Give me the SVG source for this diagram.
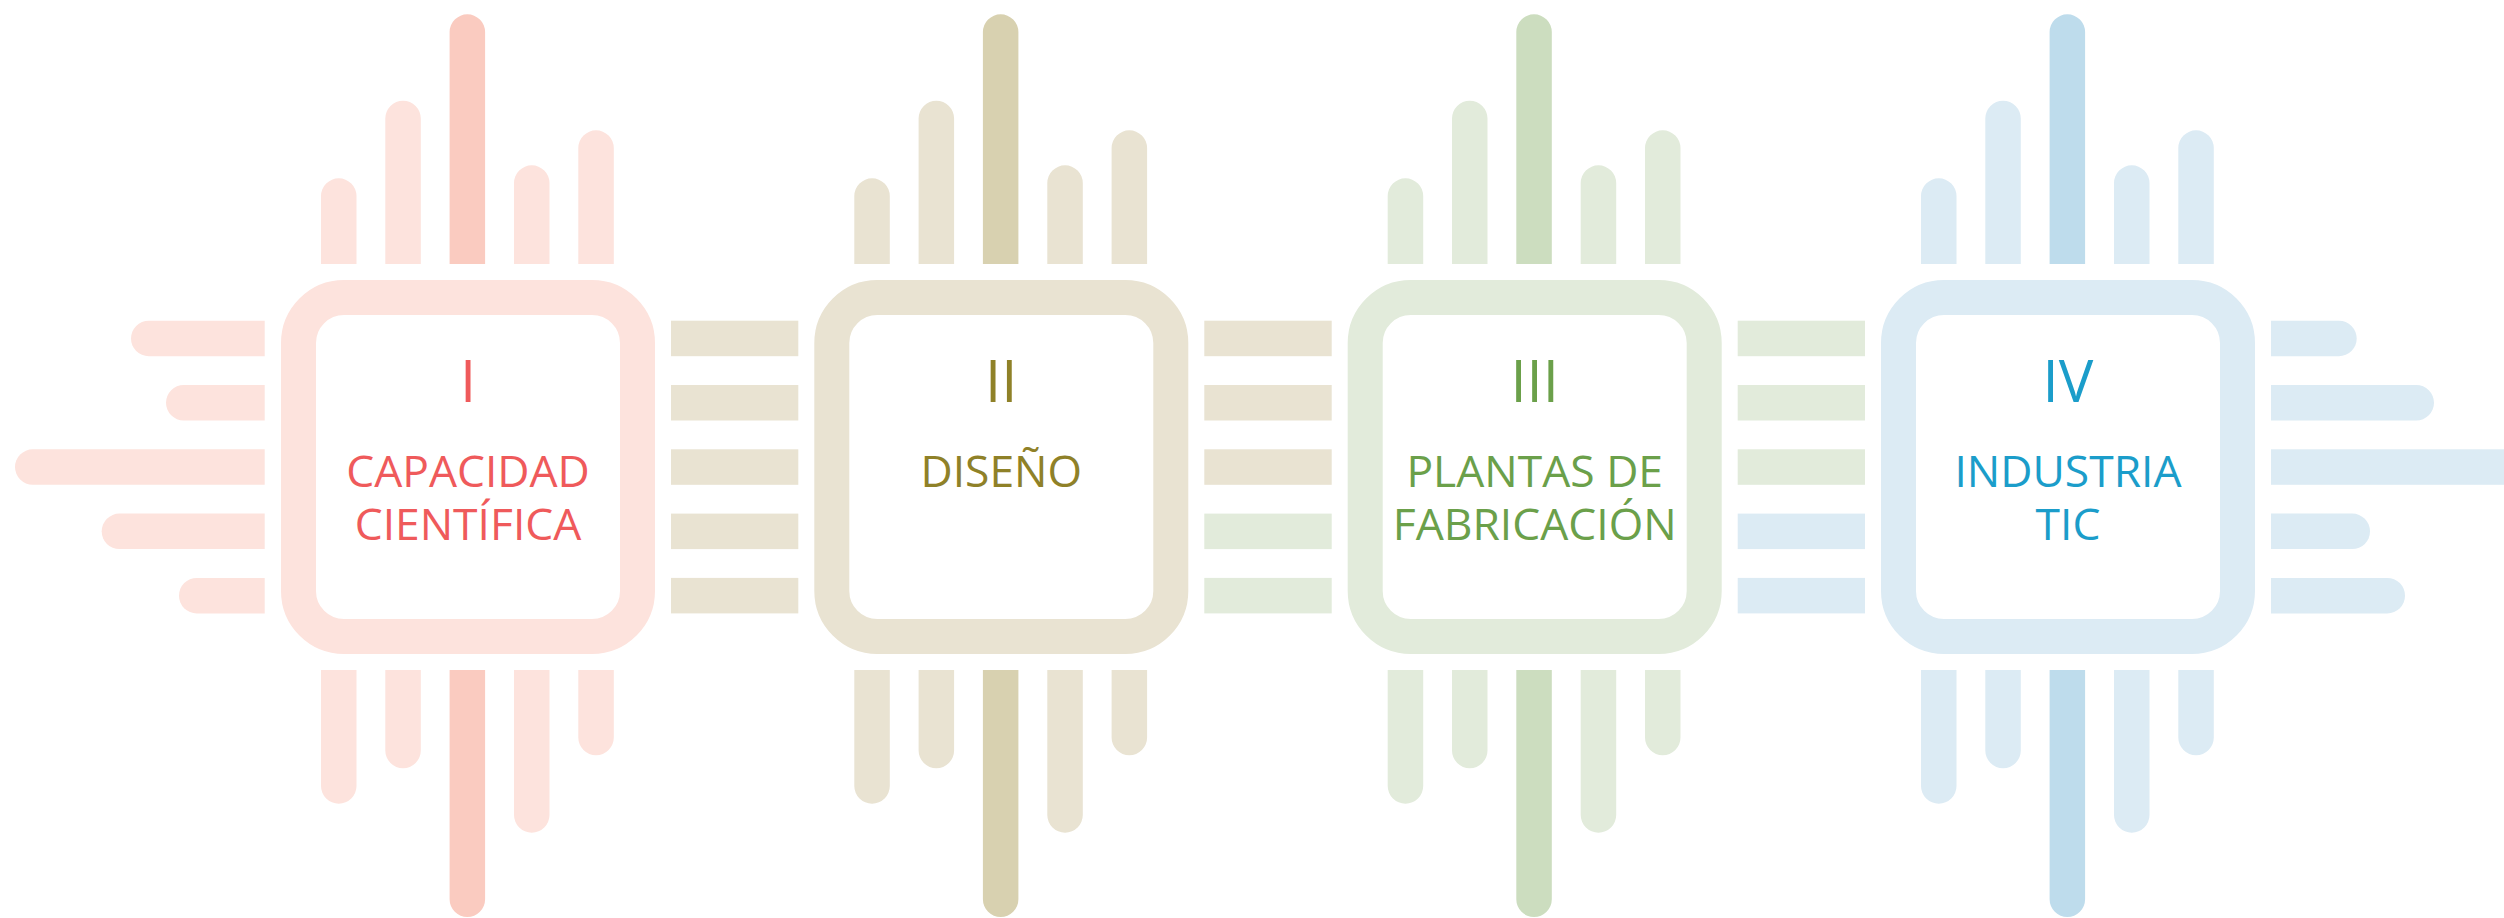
<svg xmlns="http://www.w3.org/2000/svg" xmlns:xlink="http://www.w3.org/1999/xlink" width="2504" height="918" viewBox="0 0 2504 918">
  <style>
    .frame { fill: #FFFFFF; stroke-width: 35; }
    .num { font-family: "Open Sans", "Liberation Sans", sans-serif; font-size: 58px; text-anchor: middle; }
    .lbl { font-family: "Open Sans", "Liberation Sans", sans-serif; font-size: 44.4px; text-anchor: middle; }
    .pinkL { fill: #FDE3DD; } .pinkD { fill: #FACBC0; } .pinkT { fill: #EF5A5B; }
    .beigeL { fill: #E9E3D2; } .beigeD { fill: #D8D1B0; } .beigeT { fill: #8F8128; }
    .greenL { fill: #E2EBDB; } .greenD { fill: #CCDDBF; } .greenT { fill: #6BA04A; }
    .blueL { fill: #DCEBF4; } .blueD { fill: #BEDCEC; } .blueT { fill: #1B9DCA; }
  </style>
  <defs>
    <path id="topL" d="M40 264V196.05A17.75 17.75 0 0 1 75.5 196.05V264Z M104.3 264V118.45A17.75 17.75 0 0 1 139.8 118.45V264Z M233 264V183.05A17.75 17.75 0 0 1 268.5 183.05V264Z M297.3 264V148.05A17.75 17.75 0 0 1 332.8 148.05V264Z"/>
    <path id="topD" d="M168.6 264V32.05A17.75 17.75 0 0 1 204.1 32.05V264Z"/>
    <path id="botL" d="M40 670V785.95A17.75 17.75 0 0 0 75.5 785.95V670Z M104.3 670V750.55A17.75 17.75 0 0 0 139.8 750.55V670Z M233 670V814.95A17.75 17.75 0 0 0 268.5 814.95V670Z M297.3 670V737.55A17.75 17.75 0 0 0 332.8 737.55V670Z"/>
    <path id="botD" d="M168.6 670V899.25A17.75 17.75 0 0 0 204.1 899.25V670Z"/>
  </defs>

  <g id="connectors">
    <g class="beigeL">
      <rect x="671" y="320.7" width="127.3" height="35.5"/>
      <rect x="671" y="385" width="127.3" height="35.5"/>
      <rect x="671" y="449.3" width="127.3" height="35.5"/>
      <rect x="671" y="513.6" width="127.3" height="35.5"/>
      <rect x="671" y="577.9" width="127.3" height="35.5"/>
      <rect x="1204.3" y="320.7" width="127.4" height="35.5"/>
      <rect x="1204.3" y="385" width="127.4" height="35.5"/>
      <rect x="1204.3" y="449.3" width="127.4" height="35.5"/>
    </g>
    <g class="greenL">
      <rect x="1204.3" y="513.6" width="127.4" height="35.5"/>
      <rect x="1204.3" y="577.9" width="127.4" height="35.5"/>
      <rect x="1737.7" y="320.7" width="127.3" height="35.5"/>
      <rect x="1737.7" y="385" width="127.3" height="35.5"/>
      <rect x="1737.7" y="449.3" width="127.3" height="35.5"/>
    </g>
    <g class="blueL">
      <rect x="1737.7" y="513.6" width="127.3" height="35.5"/>
      <rect x="1737.7" y="577.9" width="127.3" height="35.5"/>
    </g>
    <g id="left-pins" class="pinkL">
      <path d="M264.7 320.7H148.75A17.75 17.75 0 0 0 148.75 356.2H264.7Z"/>
      <path d="M264.7 385H183.75A17.75 17.75 0 0 0 183.75 420.5H264.7Z"/>
      <path d="M264.7 449.3H32.75A17.75 17.75 0 0 0 32.75 484.8H264.7Z"/>
      <path d="M264.7 513.6H119.45A17.75 17.75 0 0 0 119.45 549.1H264.7Z"/>
      <path d="M264.7 577.9H196.75A17.75 17.75 0 0 0 196.75 613.4H264.7Z"/>
    </g>
    <g id="right-pins" class="blueL">
      <path d="M2271 320.7H2338.95A17.75 17.75 0 0 1 2338.95 356.2H2271Z"/>
      <path d="M2271 385H2416.25A17.75 17.75 0 0 1 2416.25 420.5H2271Z"/>
      <rect x="2271" y="449.3" width="240" height="35.5"/>
      <path d="M2271 513.6H2352.25A17.75 17.75 0 0 1 2352.25 549.1H2271Z"/>
      <path d="M2271 577.9H2387.25A17.75 17.75 0 0 1 2387.25 613.4H2271Z"/>
    </g>
  </g>

  <g id="chip1">
    <use xlink:href="#topL" href="#topL" x="281" class="pinkL"/>
    <use xlink:href="#topD" href="#topD" x="281" class="pinkD"/>
    <use xlink:href="#botL" href="#botL" x="281" class="pinkL"/>
    <use xlink:href="#botD" href="#botD" x="281" class="pinkD"/>
    <rect class="frame" x="298.5" y="297.5" width="339" height="339" rx="45.5" stroke="#FDE3DD"/>
    <text class="num pinkT" x="468" y="401.7">I</text>
    <text class="lbl pinkT" x="468" y="486.7">CAPACIDAD</text>
    <text class="lbl pinkT" x="468" y="540">CIENTÍFICA</text>
  </g>

  <g id="chip2">
    <use xlink:href="#topL" href="#topL" x="814.3" class="beigeL"/>
    <use xlink:href="#topD" href="#topD" x="814.3" class="beigeD"/>
    <use xlink:href="#botL" href="#botL" x="814.3" class="beigeL"/>
    <use xlink:href="#botD" href="#botD" x="814.3" class="beigeD"/>
    <rect class="frame" x="831.8" y="297.5" width="339" height="339" rx="45.5" stroke="#E9E3D2"/>
    <text class="num beigeT" x="1001.3" y="401.7">II</text>
    <text class="lbl beigeT" x="1001.3" y="486.7">DISEÑO</text>
  </g>

  <g id="chip3">
    <use xlink:href="#topL" href="#topL" x="1347.7" class="greenL"/>
    <use xlink:href="#topD" href="#topD" x="1347.7" class="greenD"/>
    <use xlink:href="#botL" href="#botL" x="1347.7" class="greenL"/>
    <use xlink:href="#botD" href="#botD" x="1347.7" class="greenD"/>
    <rect class="frame" x="1365.2" y="297.5" width="339" height="339" rx="45.5" stroke="#E2EBDB"/>
    <text class="num greenT" x="1534.7" y="401.7">III</text>
    <text class="lbl greenT" x="1534.7" y="486.7">PLANTAS DE</text>
    <text class="lbl greenT" x="1534.7" y="540">FABRICACIÓN</text>
  </g>

  <g id="chip4">
    <use xlink:href="#topL" href="#topL" x="1881" class="blueL"/>
    <use xlink:href="#topD" href="#topD" x="1881" class="blueD"/>
    <use xlink:href="#botL" href="#botL" x="1881" class="blueL"/>
    <use xlink:href="#botD" href="#botD" x="1881" class="blueD"/>
    <rect class="frame" x="1898.5" y="297.5" width="339" height="339" rx="45.5" stroke="#DCEBF4"/>
    <text class="num blueT" x="2068" y="401.7">IV</text>
    <text class="lbl blueT" x="2068" y="486.7">INDUSTRIA</text>
    <text class="lbl blueT" x="2068" y="540">TIC</text>
  </g>
</svg>
